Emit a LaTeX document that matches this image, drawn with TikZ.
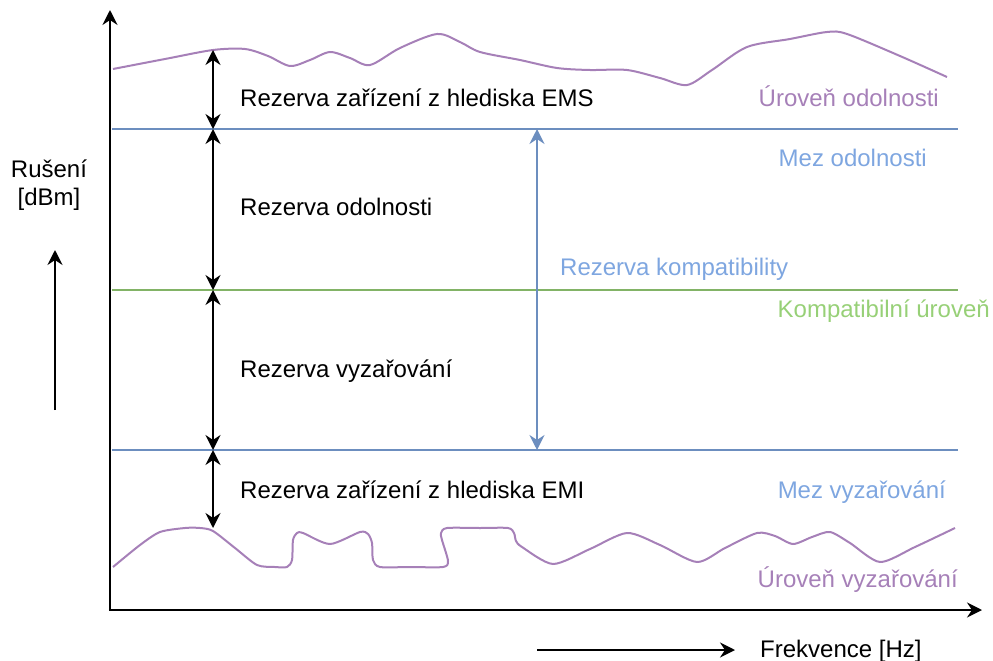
\documentclass[tikz,border=0pt]{standalone}
\usepackage{fontspec}
\setmainfont{Liberation Sans}
\usetikzlibrary{arrows.meta,positioning}
\definecolor{curvepurple}{HTML}{A680B8}
\definecolor{limitblue}{HTML}{6C8EBF}
\definecolor{limittext}{HTML}{7EA6E0}
\definecolor{compgreen}{HTML}{82B366}
\definecolor{comptext}{HTML}{97D077}

\begin{document}
\begin{tikzpicture}[
  x=1pt, y=-1pt,
  font=\fontsize{24}{28}\selectfont,
  >={Stealth[length=15pt, width=15pt, inset=5pt]},
  axis/.style={line width=2.2pt, ->},
  margin/.style={line width=2pt, <->},
  limit/.style={line width=1.6pt},
  curve/.style={line width=2pt, curvepurple},
  lbl/.style={anchor=base west, inner sep=0pt},
  rlbl/.style={anchor=base east, inner sep=0pt},
]
  \useasboundingbox (0,0) rectangle (993,661);

  % axes
  \coordinate (origin) at (110,610);
  \coordinate (ytip) at (110,10);
  \coordinate (xtip) at (982,610);
  \draw[axis] (origin) -- (ytip);
  \draw[axis] ([xshift=-1.1pt]origin) -- (xtip);

  % limit lines
  \coordinate (imm-l) at (112,129);  \coordinate (imm-r) at (958,129);
  \coordinate (comp-l) at (112,290); \coordinate (comp-r) at (958,290);
  \coordinate (emi-l) at (112,450);  \coordinate (emi-r) at (958,450);
  \draw[limit, limitblue] (imm-l) -- (imm-r);
  \draw[limit, compgreen] (comp-l) -- (comp-r);
  \draw[limit, limitblue] (emi-l) -- (emi-r);

  % immunity level
  \draw[curve] plot[smooth, tension=0.5] coordinates {
    (113,69) (165,59) (213,50) (245,49) (268,56) (290,66) (310,60) (330,52)
    (350,58) (370,65) (400,48) (437,34) (460,42) (480,52) (520,60) (557,68)
    (590,70) (627,70) (660,78) (687,85) (712,70) (747,47) (790,39) (827,32)
    (847,34) (900,56) (947,77)};

  % emission level
  \draw[curve] plot[smooth, tension=0.45] coordinates {
    (113,567) (140,545) (160,532) (185,528) (200,528) (213,531) (235,548)
    (257,565) (275,567) (287,567) (292,560) (293,540) (297,533) (303,533)
    (330,544) (360,532) (368,534) (372,543) (373,560) (380,567) (410,567)
    (443,567) (448,561) (442,540) (441,533) (447,528) (480,528) (508,528)
    (514,533) (516,541) (522,547) (553,564) (590,549) (627,533) (660,545)
    (697,562) (725,548) (757,533) (775,536) (793,544) (812,537) (830,532)
    (850,543) (880,562) (915,547) (955,528)};

  % margins
  \coordinate (ems-top) at (213,50);
  \coordinate (ems-bot) at (213,129);
  \coordinate (imm-m) at (213,290);
  \coordinate (emi-m) at (213,450);
  \coordinate (emi-bot) at (213,528);
  \draw[margin] (ems-top) -- (ems-bot);
  \draw[margin] (ems-bot) -- (imm-m);
  \draw[margin] (imm-m) -- (emi-m);
  \draw[margin] (emi-m) -- (emi-bot);
  \coordinate (comp-top) at (537,129);
  \coordinate (comp-bot) at (537,450);
  \draw[margin, limitblue, line width=1.6pt] (comp-top) -- (comp-bot);

  % labels
  \node[lbl] (ems) at (240,106) {Rezerva zařízení z hlediska EMS};
  \node[lbl] (immres) at (240,215) {Rezerva odolnosti};
  \node[lbl] (emires) at (240,377) {Rezerva vyzařování};
  \node[lbl] (emi) at (240,498) {Rezerva zařízení z hlediska EMI};
  \node[lbl, limittext] (compres) at (560,275) {Rezerva kompatibility};
  \node[rlbl, curvepurple] (immlvl) at (939,106) {Úroveň odolnosti};
  \node[rlbl, limittext] (immlim) at (927,166) {Mez odolnosti};
  \node[rlbl, comptext] (complvl) at (990,317) {Kompatibilní úroveň};
  \node[rlbl, limittext] (emilim) at (946,498) {Mez vyzařování};
  \node[rlbl, curvepurple] (emilvl) at (958,587) {Úroveň vyzařování};

  % axis captions
  \node[align=center, inner sep=0pt, anchor=base] (ylabel) at (49,205) {Rušení\\{}[dBm]};
  \coordinate (yarr-b) at (55,410);
  \coordinate (yarr-t) at (55,250);
  \draw[line width=2pt, ->] (yarr-b) -- (yarr-t);
  \node[lbl] (xlabel) at (760,657) {Frekvence [Hz]};
  \coordinate (xarr-l) at (537,650);
  \coordinate (xarr-r) at (735,650);
  \draw[line width=2pt, ->] (xarr-l) -- (xarr-r);
\end{tikzpicture}
\end{document}
